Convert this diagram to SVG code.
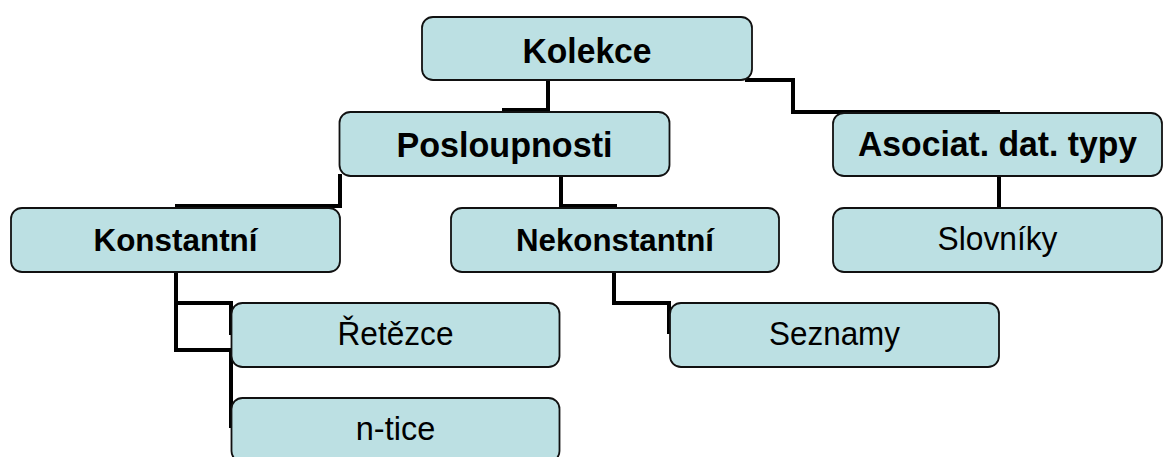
<svg xmlns="http://www.w3.org/2000/svg" width="1163" height="457" viewBox="0 0 1163 457">
<style>
.box{fill:#BCE0E3;stroke:#111;stroke-width:1.8}
.c{fill:none;stroke:#000;stroke-width:4;stroke-linejoin:miter}
.t{font-family:"Liberation Sans",Arial,sans-serif;fill:#000;text-anchor:middle}
.b1{font-weight:bold;font-size:35px}
.b2{font-weight:bold;font-size:32px}
.r{font-size:32.5px}
</style>
<rect width="1163" height="457" fill="#fff"/>
<g id="connectors">
<path class="c" d="M548,78 V110 H504 V113"/>
<path class="c" d="M745,80 H793 V112 H998 V115"/>
<path class="c" d="M340,174 V206 H177 V210"/>
<path class="c" d="M561,174 V206 H615 V210"/>
<path class="c" d="M999,174 V210"/>
<path class="c" d="M176,270 V303 H231 V335"/>
<path class="c" d="M176,270 V350 H231 V428"/>
<path class="c" d="M614,270 V303 H669 V334"/>
</g>
<g id="kolekce"><rect class="box" x="422" y="17" width="330" height="63" rx="11"/><text class="t b1" x="587" y="62.5" textLength="129" lengthAdjust="spacingAndGlyphs">Kolekce</text></g>
<g id="posloupnosti"><rect class="box" x="339.5" y="112" width="330" height="64" rx="11"/><text class="t b1" x="504.5" y="157" textLength="216" lengthAdjust="spacingAndGlyphs">Posloupnosti</text></g>
<g id="asociat"><rect class="box" x="833" y="113" width="329" height="63" rx="11"/><text class="t b1" x="997.5" y="156" textLength="279" lengthAdjust="spacingAndGlyphs">Asociat. dat. typy</text></g>
<g id="konstantni"><rect class="box" x="11" y="208" width="329" height="64" rx="11"/><text class="t b2" x="175.5" y="251" textLength="164" lengthAdjust="spacingAndGlyphs">Konstantní</text></g>
<g id="nekonstantni"><rect class="box" x="451" y="208" width="328" height="64" rx="11"/><text class="t b2" x="615" y="251" textLength="198" lengthAdjust="spacingAndGlyphs">Nekonstantní</text></g>
<g id="slovniky"><rect class="box" x="833" y="208" width="329" height="64" rx="11"/><text class="t r" x="997.5" y="250" textLength="120" lengthAdjust="spacingAndGlyphs">Slovníky</text></g>
<g id="retezce"><rect class="box" x="231.5" y="303" width="328" height="64" rx="11"/><text class="t r" x="395.5" y="345" textLength="116" lengthAdjust="spacingAndGlyphs">Řetězce</text></g>
<g id="seznamy"><rect class="box" x="670" y="303" width="329" height="64" rx="11"/><text class="t r" x="834.5" y="345" textLength="131" lengthAdjust="spacingAndGlyphs">Seznamy</text></g>
<g id="ntice"><rect class="box" x="231.5" y="398" width="328" height="64" rx="11"/><text class="t r" x="395.5" y="440">n-tice</text></g>
</svg>
